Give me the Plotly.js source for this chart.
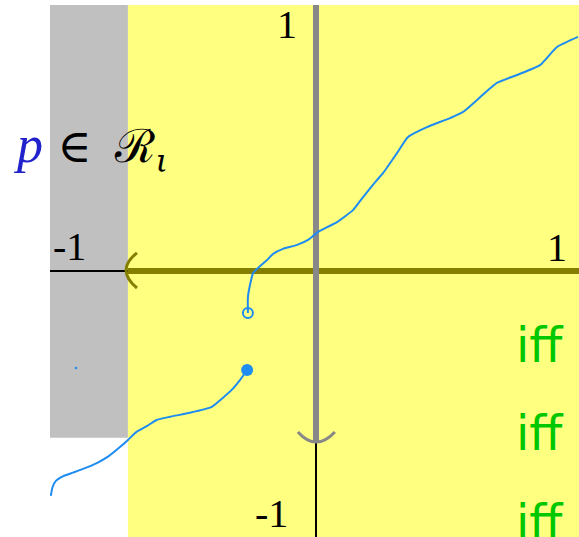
<!DOCTYPE html>
<html>
<head>
<meta charset="utf-8">
<script src="https://cdn.plot.ly/plotly-3.0.1.min.js"></script>
<style>html,body{margin:0;padding:0;background:#fff;}#chart{width:579px;height:537px;}</style>
</head>
<body>
<div id="chart"></div>
<script>
// lower branch (ends at filled dot)
const lowX = [-0.997, -0.990, -0.977, -0.950, -0.914, -0.876, -0.824, -0.782, -0.737, -0.707, -0.674, -0.636, -0.599, -0.549, -0.474, -0.392, -0.355, -0.317, -0.286, -0.259];
const lowY = [-0.845, -0.811, -0.788, -0.771, -0.758, -0.744, -0.722, -0.698, -0.662, -0.635, -0.604, -0.583, -0.560, -0.548, -0.533, -0.511, -0.481, -0.447, -0.410, -0.372];
// upper branch (starts at open circle)
const highX = [-0.256, -0.256, -0.244, -0.237, -0.214, -0.184, -0.162, -0.124, -0.071, -0.030, -0.011, 0.008, 0.079, 0.139, 0.177, 0.229, 0.252, 0.305, 0.346, 0.417, 0.504, 0.553, 0.680, 0.756, 0.842, 0.906, 0.985];
const highY = [-0.158, -0.098, -0.034, -0.008, 0.015, 0.041, 0.064, 0.083, 0.098, 0.117, 0.132, 0.147, 0.184, 0.229, 0.278, 0.342, 0.368, 0.444, 0.504, 0.541, 0.575, 0.598, 0.707, 0.737, 0.774, 0.842, 0.880];
const filledDot = {x: [-0.259], y: [-0.372]};
const openDot = {x: [-0.256], y: [-0.158]};
const speck = {x: [-0.902], y: [-0.365]};

// regions and axes
const grayRegion = {x0: -1, x1: -0.707, y0: -0.627, y1: 1};
const yellowRegion = {x0: -0.707, x1: 1.05, y0: -1.05, y1: 1};
const hAxisSplit = -0.707;
const vAxisSplit = -0.643;

const tickLabels = ["1", "-1", "1", "-1"];
const tickX = [-0.109, -0.925, 0.906, -0.169];
const tickY = [0.925, 0.094, 0.090, -0.910];
const iffY = [-0.278, -0.609, -0.944];
const iffX = 0.840;

const blue = "#1e8cf0";

const traces = [
  {x: lowX, y: lowY, mode: "lines", line: {color: blue, width: 2, shape: "spline", smoothing: 0.5}, hoverinfo: "skip", cliponaxis: false},
  {x: highX, y: highY, mode: "lines", line: {color: blue, width: 2, shape: "spline", smoothing: 0.5}, hoverinfo: "skip"},
  {x: filledDot.x, y: filledDot.y, mode: "markers", marker: {color: blue, size: 12}, cliponaxis: false},
  {x: openDot.x, y: openDot.y, mode: "markers", marker: {symbol: "circle-open", color: blue, size: 10, line: {width: 2, color: blue}}},
  {x: speck.x, y: speck.y, mode: "markers", marker: {color: blue, size: 2.5}}
];

const shapes = [
  {type: "rect", layer: "below", xref: "x", yref: "y", x0: grayRegion.x0, x1: grayRegion.x1, y0: grayRegion.y0, y1: grayRegion.y1, fillcolor: "#c0c0c0", line: {width: 0}},
  {type: "rect", layer: "below", xref: "x", yref: "y", x0: yellowRegion.x0, x1: yellowRegion.x1, y0: yellowRegion.y0, y1: yellowRegion.y1, fillcolor: "#ffff80", line: {width: 0}},
  // horizontal axis
  {type: "line", layer: "below", x0: -1, x1: hAxisSplit, y0: 0, y1: 0, line: {color: "#000", width: 2}},
  {type: "line", layer: "below", x0: hAxisSplit, x1: 1.05, y0: 0, y1: 0, line: {color: "#857f00", width: 6}},
  {type: "path", layer: "below", path: `M ${hAxisSplit+0.034} 0.068 Q ${hAxisSplit-0.048} 0.004 ${hAxisSplit+0.034} -0.064`, line: {color: "#857f00", width: 3}},
  // vertical axis
  {type: "line", layer: "below", x0: 0, x1: 0, y0: vAxisSplit, y1: 1.05, line: {color: "#888888", width: 6}},
  {type: "line", layer: "below", x0: 0, x1: 0, y0: -1.05, y1: vAxisSplit, line: {color: "#000", width: 2}},
  {type: "path", layer: "below", path: `M -0.068 ${vAxisSplit+0.038} Q 0 ${vAxisSplit-0.038} 0.071 ${vAxisSplit+0.038}`, line: {color: "#888888", width: 3}}
];

const annotations = [];
for (let i = 0; i < tickLabels.length; i++) {
  annotations.push({x: tickX[i], y: tickY[i], xref: "x", yref: "y", text: tickLabels[i], showarrow: false,
    xanchor: "center", yanchor: "middle", font: {family: "Liberation Serif, Times New Roman, serif", size: 40, color: "#000"}});
}
for (let i = 0; i < iffY.length; i++) {
  annotations.push({x: iffX, y: iffY[i], xref: "x", yref: "y", text: "iff", showarrow: false,
    xanchor: "center", yanchor: "middle", font: {family: "DejaVu Sans, Verdana, sans-serif", size: 48, color: "#00c800"}});
}
annotations.push({x: -0.074, y: 0.462, xref: "paper", yref: "y", showarrow: false, xanchor: "left", yanchor: "middle",
  text: '<span style="color:#2222cc;font-family:\'Liberation Serif\',serif;font-size:52px"><i>p</i></span> ∈ \u2009ℛ<sub><i>ι</i></sub>',
  font: {family: "DejaVu Serif, Liberation Serif, serif", size: 46, color: "#000"}});

const layout = {
  width: 579, height: 537,
  margin: {l: 50, r: 0, t: 5, b: 0, pad: 0},
  paper_bgcolor: "#ffffff", plot_bgcolor: "#ffffff",
  showlegend: false,
  xaxis: {range: [-1, 0.9887], visible: false, fixedrange: true},
  yaxis: {range: [-1, 1], visible: false, fixedrange: true},
  shapes: shapes,
  annotations: annotations
};

Plotly.newPlot("chart", traces, layout, {staticPlot: true, displayModeBar: false});
</script>
</body>
</html>
